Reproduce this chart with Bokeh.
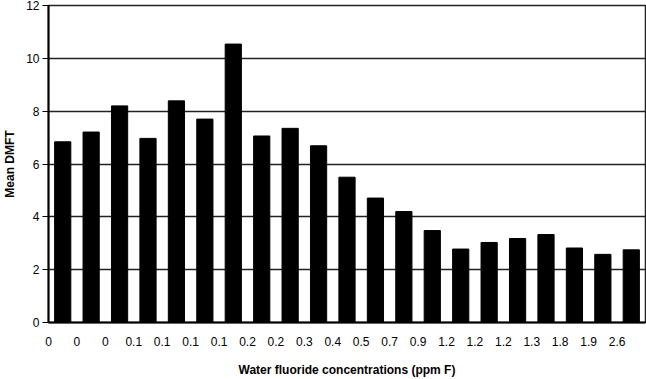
from bokeh.plotting import figure
from bokeh.models import FixedTicker, Range1d, ColumnDataSource
from bokeh.embed import file_html
from bokeh.resources import INLINE

categories = ["0", "0", "0", "0.1", "0.1", "0.1", "0.1", "0.2", "0.2", "0.3", "0.4",
              "0.5", "0.7", "0.9", "1.2", "1.2", "1.2", "1.3", "1.8", "1.9", "2.6"]
mean_dmft = [6.84, 7.21, 8.20, 6.97, 8.39, 7.70, 10.54, 7.06, 7.35, 6.69, 5.50,
             4.71, 4.20, 3.48, 2.78, 3.03, 3.18, 3.33, 2.82, 2.58, 2.75]
y_ticks = [0, 2, 4, 6, 8, 10, 12]

n = len(categories)
src = ColumnDataSource(dict(x=[i + 0.5 for i in range(n)], top=mean_dmft))

p = figure(width=646, height=379, output_backend="svg", toolbar_location=None,
           x_range=Range1d(0, n), y_range=Range1d(0, 12),
           min_border_top=5, min_border_right=1, min_border_left=0, min_border_bottom=0)
p.vbar(x="x", top="top", width=0.57, source=src, fill_color="black", line_color="black")

FONT = "Liberation Sans"
# x axis
p.xaxis.ticker = FixedTicker(ticks=list(range(n)))
p.xaxis.major_label_overrides = {i: c for i, c in enumerate(categories)}
p.xaxis.major_tick_out = 0
p.xaxis.major_tick_in = 0
p.xaxis.minor_tick_out = 0
p.xaxis.minor_tick_in = 0
p.xaxis.axis_line_width = 2
p.xaxis.axis_line_color = "black"
p.xaxis.major_label_standoff = 14
p.xaxis.axis_label = "Water fluoride concentrations (ppm F)"
p.xaxis.axis_label_standoff = 14

# y axis
p.yaxis.ticker = FixedTicker(ticks=y_ticks)
p.yaxis.major_tick_out = 6
p.yaxis.major_tick_in = 0
p.yaxis.minor_tick_out = 0
p.yaxis.minor_tick_in = 0
p.yaxis.axis_line_width = 2
p.yaxis.axis_line_color = "black"
p.yaxis.major_tick_line_color = "black"
p.yaxis.major_label_standoff = 3
p.yaxis.axis_label = "Mean DMFT"
p.yaxis.axis_label_standoff = 6

for ax in (p.xaxis, p.yaxis):
    ax.major_label_text_font = FONT
    ax.major_label_text_font_size = "12px"
    ax.major_label_text_color = "black"
    ax.axis_label_text_font = FONT
    ax.axis_label_text_font_size = "12px"
    ax.axis_label_text_font_style = "bold"
    ax.axis_label_text_color = "black"

p.xgrid.grid_line_color = None
p.ygrid.ticker = FixedTicker(ticks=y_ticks)
p.ygrid.grid_line_color = "#222222"
p.ygrid.grid_line_width = 1.5

p.outline_line_color = "#222222"
p.outline_line_width = 1.5
p.background_fill_color = "white"
p.border_fill_color = "white"

open("out.html", "w").write(file_html(p, INLINE))
